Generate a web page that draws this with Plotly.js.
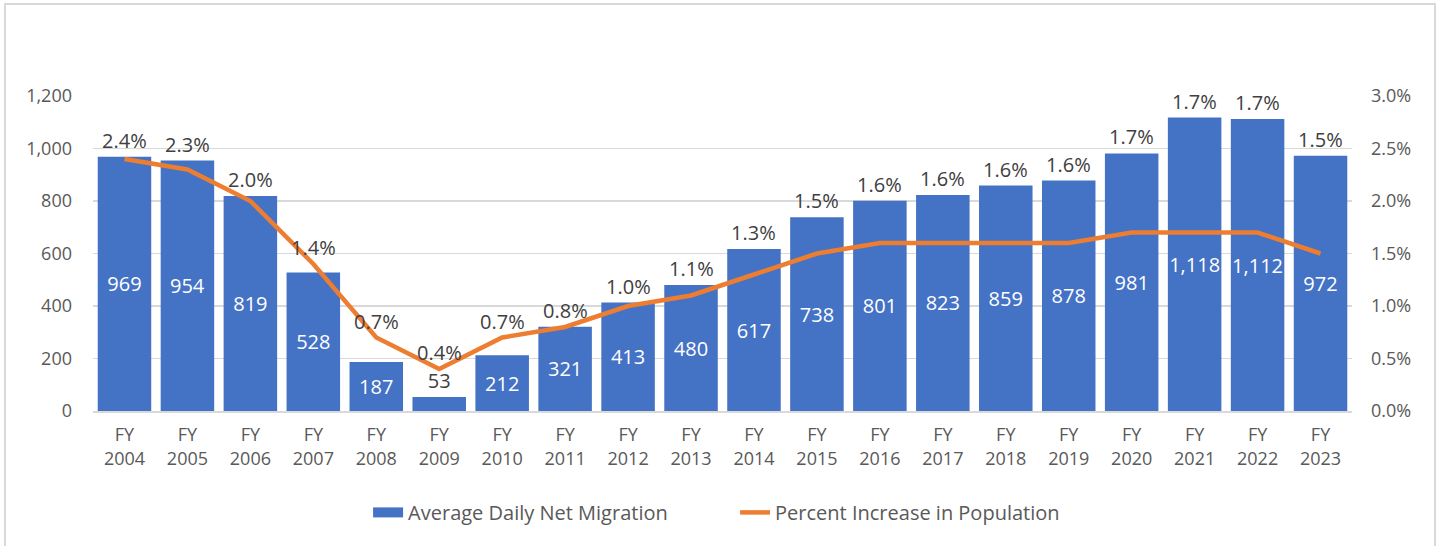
<!DOCTYPE html>
<html>
<head>
<meta charset="utf-8">
<script src="https://cdn.plot.ly/plotly-3.0.1.min.js"></script>
<style>
  body { margin: 0; background: #fff; }
  #wrap { position: relative; width: 1440px; height: 546px; }
  #chart { width: 1440px; height: 546px; }
  #frame { position: absolute; left: 4px; top: 3px; width: 1428px; height: 560px;
           border: 2px solid #d9d9d9; pointer-events: none; }
</style>
</head>
<body>
<div id="wrap">
  <div id="chart"></div>
  <div id="frame"></div>
</div>
<script>
const years = ['2004', '2005', '2006', '2007', '2008', '2009', '2010', '2011', '2012', '2013',
               '2014', '2015', '2016', '2017', '2018', '2019', '2020', '2021', '2022', '2023'];
const migration = [969, 954, 819, 528, 187, 53, 212, 321, 413, 480,
                   617, 738, 801, 823, 859, 878, 981, 1118, 1112, 972];
const pctIncrease = [2.4, 2.3, 2.0, 1.4, 0.7, 0.4, 0.7, 0.8, 1.0, 1.1,
                     1.3, 1.5, 1.6, 1.6, 1.6, 1.6, 1.7, 1.7, 1.7, 1.5];

const bar_cl = "#4472c4";
const line_cl = "#ed7d31";
const txt_cl = "#595959";
const lbl_cl = "#404040";
const fontFam = 'Open Sans, Noto Sans, sans-serif';

const cats = years.map(y => 'FY<br>' + y);
// left axis 0..1200 lines up with right axis 0..3%
const scale = 1200 / 3;

const barTrace = {
    x: cats,
    y: migration,
    type: 'bar',
    name: 'Average Daily Net Migration',
    showlegend: false,
    marker: {color: bar_cl},
    text: migration.map(v => v.toLocaleString('en-US')),
    textposition: 'auto',
    insidetextanchor: 'middle',
    textangle: 0,
    constraintext: 'none',
    insidetextfont: {color: '#ffffff', size: 20, family: fontFam},
    outsidetextfont: {color: lbl_cl, size: 20, family: fontFam},
    hoverinfo: 'skip'
};

// legend-only entry so the bar key is a wide flat block like the original
const barKey = {
    x: [null],
    y: [null],
    type: 'scatter',
    mode: 'lines',
    name: 'Average Daily Net Migration',
    line: {color: bar_cl, width: 13},
    hoverinfo: 'skip'
};

const lineTrace = {
    x: cats,
    y: pctIncrease,
    yaxis: 'y2',
    type: 'scatter',
    mode: 'lines',
    name: 'Percent Increase in Population',
    line: {color: line_cl, width: 4.5},
    hoverinfo: 'skip'
};

// percent labels sit above whichever is higher: the bar top or the line point
const pctLabels = pctIncrease.map((p, i) => ({
    x: cats[i],
    y: Math.max(p, migration[i] / scale),
    xref: 'x',
    yref: 'y2',
    text: p.toFixed(1) + '%',
    showarrow: false,
    yanchor: 'bottom',
    yshift: 1,
    font: {color: lbl_cl, size: 20, family: fontFam}
}));

const layout = {
    width: 1440,
    height: 546,
    margin: {l: 93, r: 88, t: 96, b: 135},
    paper_bgcolor: '#ffffff',
    plot_bgcolor: '#ffffff',
    font: {family: fontFam, size: 18, color: txt_cl},
    bargap: 0.15,
    xaxis: {
        automargin: false,
        showgrid: false,
        showline: true,
        linecolor: '#d9d9d9',
        linewidth: 1.5,
        ticks: '',
        ticklabelstandoff: 7,
        tickfont: {size: 18, color: txt_cl},
        fixedrange: true
    },
    yaxis: {
        automargin: false,
        range: [0, 1200],
        dtick: 200,
        tickformat: ',d',
        showgrid: true,
        gridcolor: '#d9d9d9',
        gridwidth: 1.5,
        zeroline: false,
        ticks: '',
        ticklabelstandoff: 20,
        tickfont: {size: 18, color: txt_cl},
        fixedrange: true
    },
    yaxis2: {
        automargin: false,
        overlaying: 'y',
        side: 'right',
        range: [0, 3],
        dtick: 0.5,
        tickformat: '.1f',
        ticksuffix: '%',
        showgrid: false,
        zeroline: false,
        ticks: '',
        ticklabelstandoff: 18,
        tickfont: {size: 18, color: txt_cl},
        fixedrange: true
    },
    annotations: pctLabels,
    showlegend: true,
    legend: {
        orientation: 'h',
        x: 0.51,
        xanchor: 'center',
        y: -0.26,
        yanchor: 'top',
        font: {size: 20, color: txt_cl},
        entrywidth: 322,
        entrywidthmode: 'pixels'
    }
};

Plotly.newPlot('chart', [barTrace, barKey, lineTrace], layout, {displayModeBar: false, staticPlot: true});
</script>
</body>
</html>
